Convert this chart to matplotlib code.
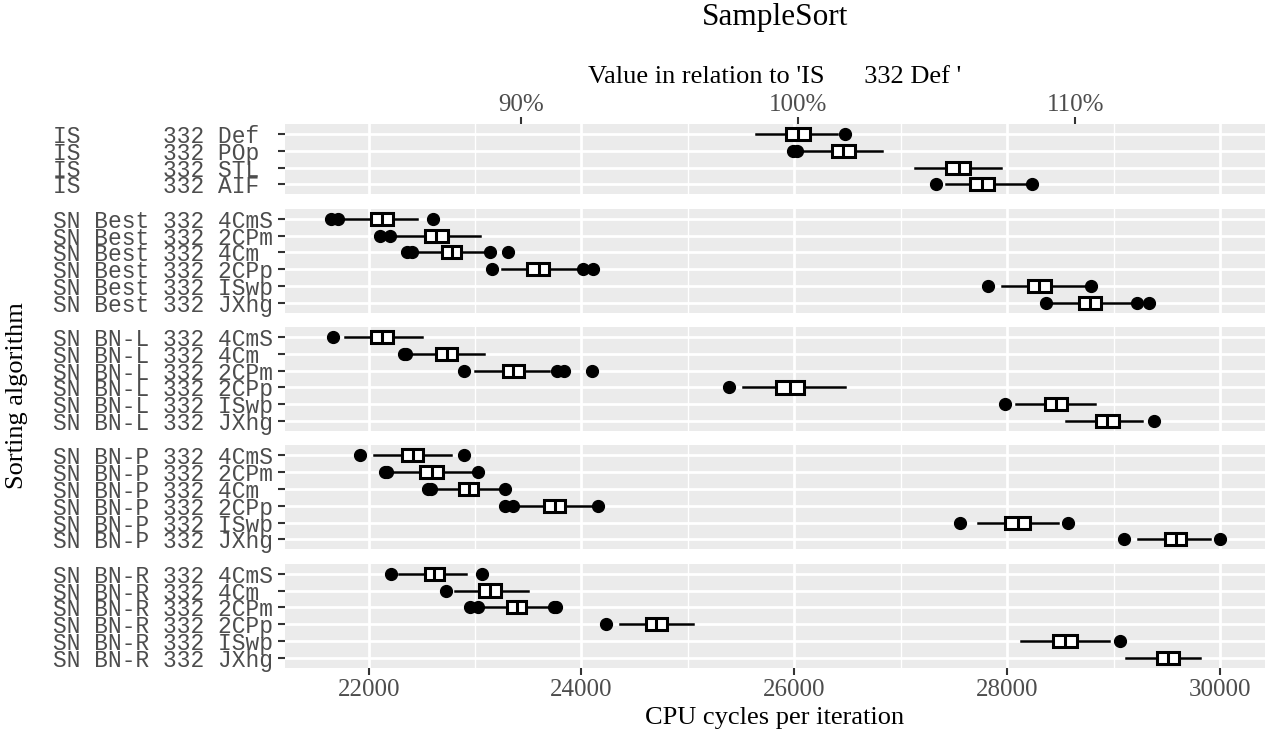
import matplotlib.pyplot as plt
from matplotlib.ticker import MultipleLocator, FixedLocator

TITLE = "SampleSort"
X_LABEL = "CPU cycles per iteration"
Y_LABEL = "Sorting algorithm"
REF_LABEL = "IS      332 Def "
TOP_LABEL = "Value in relation to 'IS      332 Def '"
PCT_TICKS = [90, 100, 110]

# rows per facet, top to bottom
GROUP_SIZES = [4, 6, 6, 6, 6]

LABELS = [
    "IS      332 Def ", "IS      332 POp ", "IS      332 STL ", "IS      332 AIF ",
    "SN Best 332 4CmS", "SN Best 332 2CPm", "SN Best 332 4Cm ",
    "SN Best 332 2CPp", "SN Best 332 ISwp", "SN Best 332 JXhg",
    "SN BN-L 332 4CmS", "SN BN-L 332 4Cm ", "SN BN-L 332 2CPm",
    "SN BN-L 332 2CPp", "SN BN-L 332 ISwp", "SN BN-L 332 JXhg",
    "SN BN-P 332 4CmS", "SN BN-P 332 2CPm", "SN BN-P 332 4Cm ",
    "SN BN-P 332 2CPp", "SN BN-P 332 ISwp", "SN BN-P 332 JXhg",
    "SN BN-R 332 4CmS", "SN BN-R 332 4Cm ", "SN BN-R 332 2CPm",
    "SN BN-R 332 2CPp", "SN BN-R 332 ISwp", "SN BN-R 332 JXhg",
]

WHISLO = [25641, 26045, 27131, 27423,
          21777, 22218, 22429, 23253, 27954, 28403,
          21777, 22372, 23004, 25514, 28085, 28553,
          22046, 22238, 22621, 23387, 27722, 29227,
          22284, 22812, 23061, 24364, 28134, 29114]
Q1 = [25926, 26356, 27430, 27655,
      22019, 22525, 22689, 23490, 28197, 28673,
      22019, 22632, 23261, 25824, 28354, 28838,
      22314, 22486, 22851, 23648, 27984, 29481,
      22525, 23035, 23302, 24606, 28433, 29405]
MEDIAN = [26038, 26461, 27543, 27767,
          22130, 22632, 22781, 23598, 28302, 28778,
          22122, 22732, 23361, 25964, 28456, 28942,
          22418, 22593, 22939, 23751, 28104, 29583,
          22613, 23138, 23395, 24703, 28546, 29515]
Q3 = [26147, 26569, 27647, 27880,
      22229, 22744, 22870, 23694, 28414, 28882,
      22230, 22831, 23464, 26094, 28561, 29047,
      22514, 22698, 23031, 23847, 28216, 29683,
      22709, 23241, 23483, 24803, 28654, 29619]
WHISHI = [26400, 26824, 27938, 28179,
          22455, 23042, 23110, 23981, 28722, 29170,
          22505, 23088, 23694, 26476, 28823, 29271,
          22774, 22985, 23234, 24096, 28478, 29908,
          22916, 23502, 23713, 25046, 28953, 29814]
OUTLIERS = [
    [26476], [25989, 26027], [], [27329, 28235],
    [21643, 21713, 22602], [22103, 22199], [22363, 22409, 23138, 23311],
    [23157, 24012, 24104], [27823, 28789], [28366, 29219, 29332],
    [21663], [22333, 22350], [22897, 23770, 23836, 24096],
    [25387], [27984], [29376],
    [21919, 22900], [22150, 22175, 23031], [22560, 22585, 23284],
    [23284, 23361, 24154], [27553, 28572], [29096, 30001],
    [22207, 23069], [22728], [22954, 23031, 23740, 23760],
    [24230], [29059], [],
]

X_MIN, X_MAX = 21214, 30423

BG = "#EBEBEB"
TXT_GREY = "#4D4D4D"
TICK_GREY = "#333333"
SERIF = "Liberation Serif"
MONO = "Liberation Mono"

plt.rcParams["font.family"] = SERIF

ref_value = MEDIAN[LABELS.index(REF_LABEL)]

fig = plt.figure(figsize=(12.65, 7.4), dpi=100)
gs = fig.add_gridspec(
    len(GROUP_SIZES), 1,
    height_ratios=[n + 0.2 for n in GROUP_SIZES],
    left=285 / 1265, right=1.0, top=1 - 124 / 740, bottom=1 - 667.7 / 740,
    hspace=0.147,
)

axes = []
start = 0
for i, n in enumerate(GROUP_SIZES):
    ax = fig.add_subplot(gs[i], sharex=axes[0] if axes else None)
    axes.append(ax)
    rows = range(start, start + n)
    stats = [
        {
            "whislo": WHISLO[r], "q1": Q1[r], "med": MEDIAN[r],
            "q3": Q3[r], "whishi": WHISHI[r], "fliers": OUTLIERS[r],
        }
        for r in rows
    ]
    ax.bxp(
        stats,
        positions=list(range(1, n + 1)),
        widths=0.72,
        orientation="horizontal",
        patch_artist=True,
        showcaps=False,
        boxprops=dict(facecolor="white", edgecolor="black", linewidth=2.2),
        medianprops=dict(color="black", linewidth=2.2),
        whiskerprops=dict(color="black", linewidth=1.8),
        flierprops=dict(marker="o", markerfacecolor="black",
                        markeredgecolor="black", markersize=8.5),
    )
    ax.set_ylim(n + 0.6, 0.4)
    ax.set_yticks(range(1, n + 1))
    ax.set_yticklabels([LABELS[r] for r in rows], family=MONO,
                       fontsize=16.5, color=TXT_GREY)
    ax.set_facecolor(BG)
    ax.set_axisbelow(True)
    for s in ax.spines.values():
        s.set_visible(False)
    ax.xaxis.set_major_locator(MultipleLocator(2000))
    ax.xaxis.set_minor_locator(MultipleLocator(1000))
    ax.grid(which="major", color="white", linewidth=2.0)
    ax.grid(which="minor", axis="x", color="white", linewidth=1.0)
    ax.tick_params(axis="y", length=4.8, width=1.5, color=TICK_GREY, pad=3.6)
    ax.tick_params(axis="x", which="both", length=0, labelbottom=False)
    start += n

axes[0].set_xlim(X_MIN, X_MAX)

bottom = axes[-1]
bottom.tick_params(axis="x", which="major", length=4.8, width=1.5,
                   color=TICK_GREY, labelbottom=True, labelsize=18,
                   labelcolor=TXT_GREY, pad=3.5)
bottom.set_xlabel(X_LABEL, fontsize=19, labelpad=4)

top = axes[0].secondary_xaxis(
    "top",
    functions=(lambda v: v / ref_value * 100, lambda p: p * ref_value / 100),
)
top.xaxis.set_major_locator(FixedLocator(PCT_TICKS))
top.set_xticklabels([f"{p}%" for p in PCT_TICKS])
top.tick_params(axis="x", length=4.8, width=1.5, color=TICK_GREY,
                labelsize=18, labelcolor=TXT_GREY, pad=1.0)
top.xaxis.set_minor_locator(FixedLocator([]))
for s in top.spines.values():
    s.set_visible(False)
top.set_xlabel(TOP_LABEL, fontsize=19, labelpad=8)

fig.text(775 / 1265, 1 - 17 / 740, TITLE, ha="center", va="center",
         fontsize=22.5)
fig.text(17 / 1265, 1 - 396 / 740, Y_LABEL, ha="center", va="center",
         rotation=90, fontsize=19)

fig.savefig("out.png", dpi=100)
